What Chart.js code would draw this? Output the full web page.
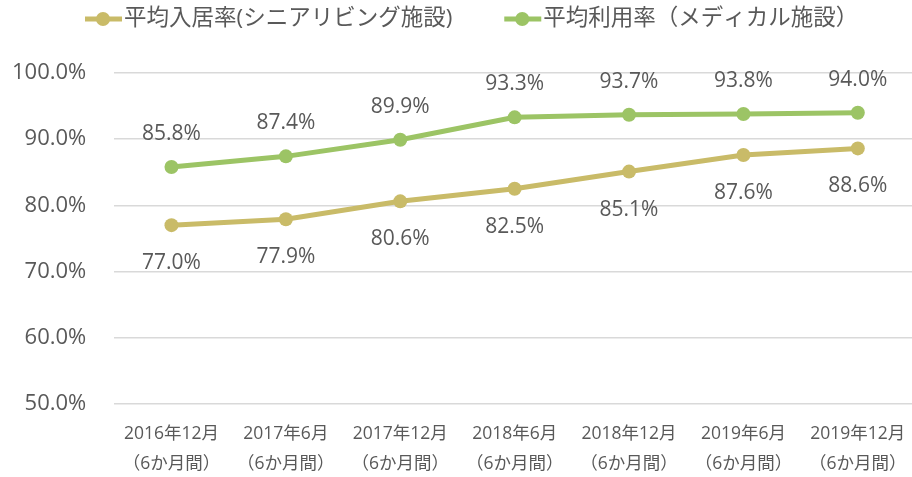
<!DOCTYPE html>
<html>
<head>
<meta charset="utf-8">
<script src="https://cdn.jsdelivr.net/npm/chart.js@4/dist/chart.umd.min.js"></script>
<style>
  html, body { margin: 0; padding: 0; background: #fff; overflow: hidden; }
  #wrap { width: 922px; height: 477px; }
</style>
</head>
<body>
<div id="wrap"><canvas id="my-chart"></canvas></div>
<script>
'use strict';

// ***** DATA *****

let categories = [
  ['2016年12月', '（6か月間）'],
  ['2017年6月', '（6か月間）'],
  ['2017年12月', '（6か月間）'],
  ['2018年6月', '（6か月間）'],
  ['2018年12月', '（6か月間）'],
  ['2019年6月', '（6か月間）'],
  ['2019年12月', '（6か月間）']
];
let seniorRates = [77.0, 77.9, 80.6, 82.5, 85.1, 87.6, 88.6];
let medicalRates = [85.8, 87.4, 89.9, 93.3, 93.7, 93.8, 94.0];
let seriesNames = ['平均入居率(シニアリビング施設)', '平均利用率（メディカル施設）'];
let yTicks = [50, 60, 70, 80, 90, 100];

let gold = '#c9bb68';
let green = '#9cc465';
let textGray = '#595959';
let fontFamily = '"Segoe UI", "Open Sans", "Noto Sans CJK JP", sans-serif';

// ***** PLUGINS *****

// value labels: green above the points, gold below
let valueLabels = {
  id: 'valueLabels',
  afterDatasetsDraw(chart){
    let ctx = chart.ctx;
    ctx.save();
    ctx.font = '21px ' + fontFamily;
    ctx.fillStyle = textGray;
    ctx.textAlign = 'center';
    ctx.textBaseline = 'middle';
    chart.data.datasets.forEach((ds, i) => {
      let meta = chart.getDatasetMeta(i);
      meta.data.forEach((pt, j) => {
        let dy = ds.labelAbove ? -33 : 38;
        ctx.fillText(ds.data[j].toFixed(1) + '%', pt.x, pt.y + dy);
      });
    });
    ctx.restore();
  }
};

// legend drawn by hand: line with a dot, then the name
let lineLegend = {
  id: 'lineLegend',
  afterDraw(chart){
    let ctx = chart.ctx;
    let x = 85;
    let y = 19;
    ctx.save();
    ctx.font = '22.5px ' + fontFamily;
    ctx.textBaseline = 'middle';
    chart.data.datasets.forEach((ds) => {
      ctx.strokeStyle = ds.borderColor;
      ctx.lineWidth = 5;
      ctx.beginPath();
      ctx.moveTo(x, y);
      ctx.lineTo(x + 37, y);
      ctx.stroke();
      ctx.fillStyle = ds.borderColor;
      ctx.beginPath();
      ctx.arc(x + 18, y, 7, 0, Math.PI * 2);
      ctx.fill();
      ctx.fillStyle = textGray;
      ctx.fillText(ds.label, x + 39, y);
      x += 39 + ctx.measureText(ds.label).width + 52;
    });
    ctx.restore();
  }
};

// ***** CHART *****

let ctx = document.getElementById('my-chart').getContext('2d');

let myChartObj = {
  type: 'line',
  data: {
    labels: categories,
    datasets: [{
      label: seriesNames[0],
      data: seniorRates,
      borderColor: gold,
      backgroundColor: gold,
      borderWidth: 5,
      pointRadius: 7,
      pointBackgroundColor: gold,
      pointBorderWidth: 0,
      labelAbove: false
    },
    {
      label: seriesNames[1],
      data: medicalRates,
      borderColor: green,
      backgroundColor: green,
      borderWidth: 5,
      pointRadius: 7,
      pointBackgroundColor: green,
      pointBorderWidth: 0,
      labelAbove: true
    }]
  },
  options: {
    responsive: true,
    maintainAspectRatio: false,
    animation: false,
    layout: { padding: { top: 73, left: -16, right: 0, bottom: -9 } },
    plugins: {
      legend: { display: false },
      tooltip: { enabled: false }
    },
    scales: {
      x: {
        offset: true,
        grid: { display: false },
        border: { display: false },
        ticks: {
          color: textGray,
          font: { family: fontFamily, size: 17.5, lineHeight: 1.72 },
          maxRotation: 0,
          autoSkip: false,
          padding: 7
        }
      },
      y: {
        min: 50,
        max: 100,
        afterBuildTicks(axis){
          axis.ticks = yTicks.map(v => ({ value: v }));
        },
        grid: { color: '#d9d9d9', lineWidth: 1.5, drawTicks: false },
        border: { display: false },
        ticks: {
          color: textGray,
          padding: 28,
          font: { family: fontFamily, size: 22 },
          callback: (v) => v.toFixed(1) + '%'
        }
      }
    }
  },
  plugins: [valueLabels, lineLegend]
};

new Chart(ctx, myChartObj);
</script>
</body>
</html>
